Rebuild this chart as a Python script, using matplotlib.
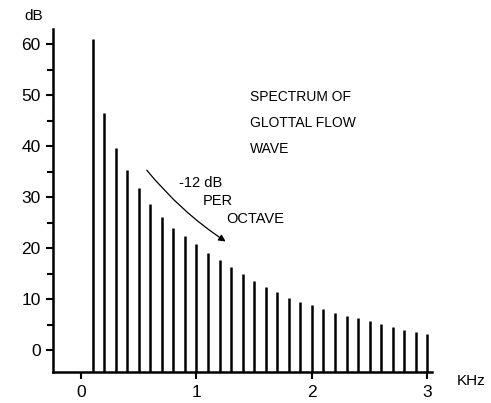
import matplotlib
matplotlib.use("Agg")
import matplotlib.pyplot as plt
from matplotlib.patches import FancyArrowPatch

plt.rcParams['font.family'] = ['Liberation Sans', 'DejaVu Sans']

# harmonic frequencies (kHz) and levels (dB)
freqs_khz = [0.1, 0.2, 0.3, 0.4, 0.5, 0.6, 0.7, 0.8, 0.9, 1.0,
             1.1, 1.2, 1.3, 1.4, 1.5, 1.6, 1.7, 1.8, 1.9, 2.0,
             2.1, 2.2, 2.3, 2.4, 2.5, 2.6, 2.7, 2.8, 2.9, 3.0]
levels_db = [61.0, 46.5, 39.7, 35.3, 31.8, 28.6, 26.1, 23.9, 22.4, 20.7,
             19.1, 17.6, 16.2, 14.9, 13.5, 12.3, 11.3, 10.3, 9.5, 8.8,
             8.1, 7.3, 6.7, 6.2, 5.7, 5.2, 4.6, 4.0, 3.5, 3.1]
x_ticks = [0, 1, 2, 3]
y_ticks = [0, 10, 20, 30, 40, 50, 60]
title_lines = ["SPECTRUM OF", "GLOTTAL FLOW", "WAVE"]
slope_lines = ["-12 dB", "PER", "OCTAVE"]

y_bottom = -4.3

fig = plt.figure(figsize=(4.91, 4.03), dpi=100)
ax = fig.add_axes([0.1086, 0.0769, 0.7712, 0.8519])

ax.vlines(freqs_khz, y_bottom, levels_db, colors='black', linewidth=1.8)

ax.set_xlim(-0.24, 3.04)
ax.set_ylim(y_bottom, 63)
ax.spines['top'].set_visible(False)
ax.spines['right'].set_visible(False)
ax.spines['left'].set_linewidth(1.8)
ax.spines['bottom'].set_linewidth(1.8)

ax.set_xticks(x_ticks)
ax.set_yticks(y_ticks)
ax.set_yticks([5, 15, 25, 35, 45, 55], minor=True)
ax.tick_params(axis='both', which='major', length=5, width=1.5, labelsize=12.5, pad=4)
ax.tick_params(axis='y', which='minor', length=4, width=1.5)

fig.text(24 / 491, 1 - 16 / 403, "dB", fontsize=11, ha='left', va='center')
fig.text(457 / 491, 1 - 381 / 403, "KHz", fontsize=11, ha='left', va='center')

# text block on the right
for i, line in enumerate(title_lines):
    fig.text(250 / 491, 1 - (97 + 26 * i) / 403, line, fontsize=10,
             ha='left', va='center')

slope_x = [179, 203, 226]
slope_y = [183, 201, 219]
for line, px, py in zip(slope_lines, slope_x, slope_y):
    fig.text(px / 491, 1 - py / 403, line, fontsize=10.5, ha='left', va='center')

arrow = FancyArrowPatch((145 / 491, 1 - 168 / 403), (228 / 491, 1 - 243 / 403),
                        transform=fig.transFigure, connectionstyle="arc3,rad=0.08",
                        arrowstyle='-|>', mutation_scale=10, linewidth=0.9, color='black')
fig.patches.append(arrow)

fig.savefig("out.png", dpi=100)
